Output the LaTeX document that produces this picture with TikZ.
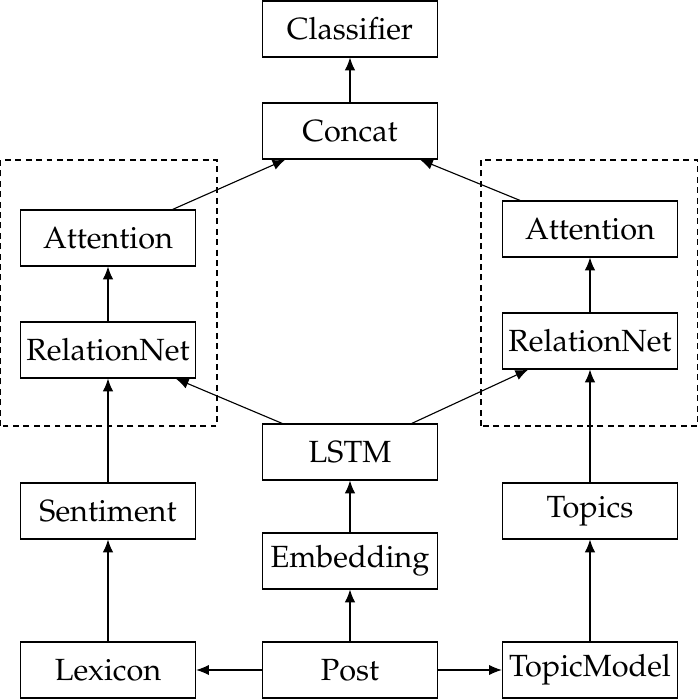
\documentclass[tikz,border=0pt]{standalone}
\usepackage[T1]{fontenc}
\usepackage{mathpazo}
\usepackage{tikz}
\usetikzlibrary{arrows.meta, positioning}

\begin{document}
\begin{tikzpicture}[
    block/.style={draw, minimum width=2.19cm, minimum height=0.7cm, inner sep=1pt, font=\fontsize{10.9}{13}\selectfont},
    flow/.style={-{Latex[length=1.6mm, width=1.3mm]}},
    group/.style={draw, dash pattern=on 2.1pt off 1.6pt}
  ]
  \useasboundingbox (0,0) rectangle (8.725,8.7375);

  % dashed groups
  \draw[group] (0.006,3.4125) rectangle (2.7125,6.7375);
  \draw[group] (6.0125,3.4125) rectangle (8.719,6.7375);

  \node[block] (classifier) at (4.375,8.375) {Classifier};
  \node[block] (concat) at (4.375,7.1) {Concat};
  \node[block] (attL) at (1.35,5.7625) {Attention};
  \node[block] (relL) at (1.35,4.3625) {RelationNet};
  \node[block] (attR) at (7.375,5.875) {Attention};
  \node[block] (relR) at (7.375,4.475) {RelationNet};
  \node[block] (lstm) at (4.375,3.0875) {LSTM};
  \node[block] (senti) at (1.35,2.35) {Sentiment};
  \node[block] (embed) at (4.375,1.725) {Embedding};
  \node[block] (topics) at (7.375,2.35) {Topics};
  \node[block] (lexicon) at (1.35,0.3625) {Lexicon};
  \node[block] (post) at (4.375,0.3625) {Post};
  \node[block] (topicmodel) at (7.375,0.3625) {TopicModel};

  \draw[flow] (post) -- (lexicon);
  \draw[flow] (post) -- (topicmodel);
  \draw[flow] (post) -- (embed);
  \draw[flow] (embed) -- (lstm);
  \draw[flow] (lexicon) -- (senti);
  \draw[flow] (senti) -- (relL);
  \draw[flow] (topicmodel) -- (topics);
  \draw[flow] (topics) -- (relR);
  \draw[flow] (lstm) -- (relL);
  \draw[flow] (lstm) -- (relR);
  \draw[flow] (relL) -- (attL);
  \draw[flow] (relR) -- (attR);
  \draw[flow] (attL) -- (concat);
  \draw[flow] (attR) -- (concat);
  \draw[flow] (concat) -- (classifier);
\end{tikzpicture}
\end{document}
